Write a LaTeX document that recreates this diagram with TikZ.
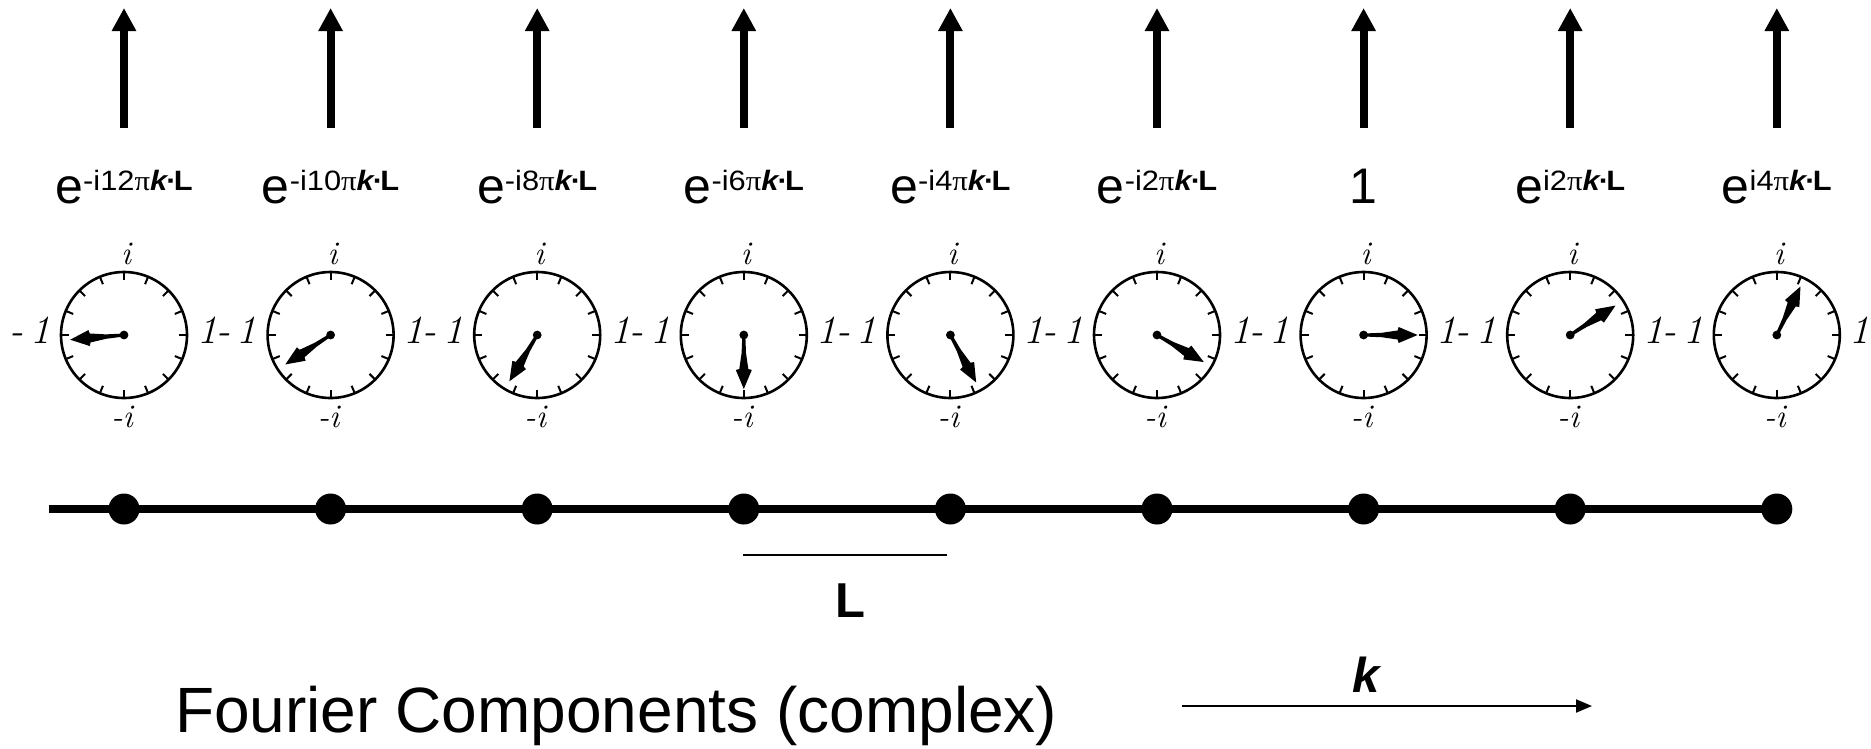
\documentclass[tikz,border=0pt]{standalone}
\usepackage{fontspec}
\setmainfont{Liberation Sans}
\newfontfamily\serifpi{Liberation Serif}
\usetikzlibrary{arrows.meta}
\newcommand\lmit{\fontfamily{lmr}\itshape}
\newcommand\supx[1]{e\raisebox{13pt}{\fontsize{28}{28}\selectfont\scalebox{1.1}[1]{#1}}}
\newcommand\kdl{{\serifpi π}\textbf{\textit{k}}\kern-2pt\textbf{·}\kern-2.5pt\textbf{L}}
\tikzset{
  toplabel/.style={anchor=base,inner sep=0pt,font=\fontsize{50}{50}\selectfont},
  cliplabel/.style={inner sep=0pt,font=\fontsize{33}{33}\selectfont\lmit},
  onelabel/.style={inner sep=0pt,font=\fontsize{40}{40}\selectfont\lmit},
  dot/.style={circle,fill=black,inner sep=0pt,minimum size=31pt},
  uparrow/.style={line width=8pt,-{Triangle[length=23pt,width=23pt]}},
  clock/.pic={
    \draw[line width=2.6pt] (0,0) circle (63);
    \foreach \a in {0,22.5,...,337.5} \draw[line width=2pt] (\a:63) -- (\a:55);
    \fill[rotate=#1] (0,-1.5) -- (18,-2.2) -- (34,-4.5) -- (35,-8) -- (54,0)
       -- (35,8) -- (34,4.5) -- (18,2.2) -- (0,1.5) -- cycle;
    \fill (0,0) circle (4.4);
    \node[cliplabel] (-up) at (2,81) {i};
    \node[cliplabel] (-dn) at (-2,-82) {-i};
    \node[onelabel] (-rt) at (83,5) {1};
    \node[onelabel] (-lf) at (-94,5) {-\,1};
  }
}
\begin{document}
\begin{tikzpicture}[x=1pt,y=1pt]
\useasboundingbox (0,0) rectangle (1871,-748);
% column positions
\foreach \n/\x/\ang/\lab in {
  1/124/185/{\supx{-i12\kdl}},
  2/330.6/213/{\supx{-i10\kdl}},
  3/537.2/239/{\supx{-i8\kdl}},
  4/743.8/270/{\supx{-i6\kdl}},
  5/950.4/298.5/{\supx{-i4\kdl}},
  6/1157/330/{\supx{-i2\kdl}},
  7/1363.6/0/{1},
  8/1570.2/33/{\supx{i2\kdl}},
  9/1776.8/64/{\supx{i4\kdl}}}{
  \coordinate (ab\n) at (\x,-128);
  \coordinate (at\n) at (\x,-8);
  \draw[uparrow] (ab\n) -- (at\n);
  \node[toplabel] (lab\n) at (\x,-203) {\lab};
  \pic (c\n) at (\x,-335) {clock=\ang};
}
% main line with dots
\coordinate (lstart) at (49,-509);
\coordinate (lend) at (1776.8,-509);
\draw[line width=7.7pt] (lstart) -- (lend);
\foreach \n/\x in {1/124,2/330.6,3/537.2,4/743.8,5/950.4,6/1157,7/1363.6,8/1570.2,9/1776.8}
  \node[dot] (d\n) at (\x,-509) {};
% L marker
\coordinate (Ll) at (743,-555);
\coordinate (Lr) at (947,-555);
\draw[line width=2.5pt] (Ll) -- (Lr);
\node[anchor=base,inner sep=0pt,font=\fontsize{49}{49}\selectfont\bfseries] (Lab) at (850,-617) {L};
% k arrow
\coordinate (ka) at (1182,-706);
\coordinate (kb) at (1592,-706);
\draw[line width=2pt,-{Triangle[length=16pt,width=13pt]}] (ka) -- (kb);
\node[anchor=base,inner sep=0pt,font=\fontsize{49}{49}\selectfont\bfseries\itshape] (klab) at (1366,-692) {k};
% title
\node[anchor=base west,inner sep=0pt,font=\fontsize{64}{64}\selectfont] (title) at (175,-732) {Fourier Components (complex)};
\end{tikzpicture}
\end{document}
